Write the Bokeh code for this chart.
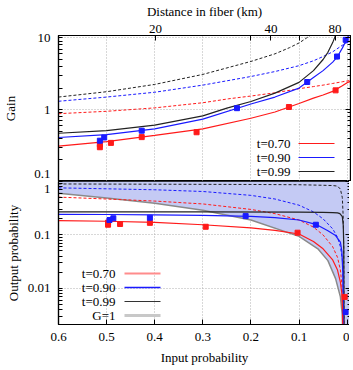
import math
from bokeh.plotting import figure
from bokeh.models import (Range1d, FixedTicker, LogAxis, BoxAnnotation, Label)
from bokeh.layouts import column
from bokeh.embed import file_html
from bokeh.resources import INLINE

FONT = "Liberation Serif"

# ---------------- axis ticks ----------------
x_ticks = [0.6, 0.5, 0.4, 0.3, 0.2, 0.1, 0.0]
x_tick_labels = ["0.6", "0.5", "0.4", "0.3", "0.2", "0.1", "0"]
dist_ticks_km = [20, 40, 80]
gain_ticks = [0.1, 1, 10]
# the "0.1" label sits just above the panel's lower edge (as in the original)
gain_label_pos = [0.127, 1, 10]
gain_tick_labels = ["0.1", "1", "10"]
out_ticks = [0.01, 0.1, 1]
# the "1" label sits just below the panel's upper edge (as in the original)
out_label_pos = [0.01, 0.1, 0.724]
out_tick_labels = ["0.01", "0.1", "1"]

# ---------------- top panel: gain curves ----------------
g_red_sol_x = [0.6, 0.5, 0.4, 0.3, 0.2, 0.15, 0.1, 0.07, 0.05, 0.03, 0.01, 0.0, -0.007]
g_red_sol_y = [0.31, 0.36, 0.44, 0.54, 0.76, 0.93, 1.22, 1.45, 1.6, 1.8, 2.15, 2.38, 2.48]
g_red_dash_x = [0.6, 0.5, 0.4, 0.3, 0.246, 0.2, 0.15, 0.1, 0.07, 0.05, 0.03, 0.01, -0.007]
g_red_dash_y = [0.88, 0.95, 1.06, 1.25, 1.42, 1.55, 1.72, 1.96, 2.1, 2.2, 2.32, 2.45, 2.56]
g_blue_sol_x = [0.6, 0.5, 0.4, 0.3, 0.2, 0.15, 0.1, 0.07, 0.05, 0.03, 0.02, 0.01, 0.0, -0.004]
g_blue_sol_y = [0.41, 0.45, 0.54, 0.74, 1.2, 1.5, 2.0, 2.8, 3.5, 4.6, 5.5, 7.2, 9.8, 11.0]
g_blue_dash_x = [0.6, 0.5, 0.4, 0.3, 0.2, 0.15, 0.1, 0.07, 0.05, 0.03, 0.01, -0.007]
g_blue_dash_y = [1.31, 1.5, 1.75, 2.2, 2.9, 3.4, 4.1, 4.8, 5.5, 6.4, 7.9, 9.2]
g_blk_sol_x = [0.6, 0.5, 0.4, 0.3, 0.25, 0.2, 0.15, 0.1, 0.07, 0.05, 0.04, 0.03, 0.025, 0.022]
g_blk_sol_y = [0.47, 0.51, 0.61, 0.82, 1.05, 1.3, 1.7, 2.4, 3.5, 5.0, 6.3, 8.6, 10.5, 11.5]
g_blk_dash_x = [0.6, 0.5, 0.4, 0.3, 0.2, 0.15, 0.12, 0.1, 0.085, 0.075]
g_blk_dash_y = [1.5, 1.78, 2.25, 3.1, 4.7, 6.0, 7.3, 8.5, 9.9, 11.0]

# measured gain
g_red_pts_x = [0.514, 0.514, 0.491, 0.427, 0.313, 0.121, 0.024]
g_red_pts_y = [0.30, 0.33, 0.345, 0.415, 0.485, 1.09, 1.86]
g_red_pts_err = [0.02, 0.02, 0.02, 0.025, 0.03, 0.06, 0.1]
g_blue_pts_x = [0.514, 0.505, 0.427, 0.229, 0.083, 0.021, 0.003]
g_blue_pts_y = [0.37, 0.41, 0.51, 1.05, 2.43, 5.5, 9.4]
g_blue_pts_err = [0.03, 0.03, 0.04, 0.08, 0.2, 0.5, 0.9]

# ---------------- bottom panel: output probability ----------------
gray_x = [0.6, 0.5, 0.4, 0.3, 0.2, 0.1, 0.06, 0.04, 0.024, 0.014, 0.0104, 0.009]
gray_y = [0.6, 0.49, 0.39, 0.29, 0.19, 0.094, 0.054, 0.033, 0.0152, 0.0069, 0.0034, 0.0015]
shade_x = [0.6, 0.5, 0.4, 0.3, 0.2, 0.1, 0.06, 0.04, 0.024, 0.014, 0.0104, 0.009, 0.0, -0.007]
shade_lo = [0.6, 0.49, 0.39, 0.29, 0.19, 0.094, 0.054, 0.033, 0.0152, 0.0069, 0.0034, 0.0015, 0.0015, 0.0015]
shade_hi = [1.0, 1.0, 1.0, 1.0, 1.0, 1.0, 1.0, 1.0, 1.0, 1.0, 1.0, 1.0, 1.0, 1.0]

o_red_sol_x = [0.6, 0.5, 0.4, 0.3, 0.2, 0.15, 0.1, 0.07, 0.05, 0.03, 0.02, 0.014, 0.011, 0.0095, 0.009]
o_red_sol_y = [0.185, 0.18, 0.172, 0.155, 0.135, 0.122, 0.104, 0.075, 0.055, 0.034, 0.022, 0.013, 0.008, 0.004, 0.0018]
o_red_dash_x = [0.6, 0.5, 0.4, 0.3, 0.2, 0.15, 0.1, 0.07, 0.05, 0.03, 0.02, 0.014, 0.011, 0.0095, 0.009]
o_red_dash_y = [0.51, 0.47, 0.43, 0.38, 0.3, 0.25, 0.19, 0.14, 0.1, 0.06, 0.038, 0.022, 0.012, 0.005, 0.0018]
o_blue_sol_x = [0.6, 0.5, 0.4, 0.3, 0.2, 0.15, 0.1, 0.065, 0.04, 0.024, 0.014, 0.011, 0.009, 0.008]
o_blue_sol_y = [0.243, 0.241, 0.238, 0.233, 0.222, 0.21, 0.19, 0.158, 0.12, 0.097, 0.073, 0.05, 0.02, 0.0018]
o_blue_dash_x = [0.6, 0.5, 0.4, 0.3, 0.2, 0.15, 0.1, 0.07, 0.05, 0.03, 0.02, 0.014, 0.01, 0.008, 0.007]
o_blue_dash_y = [0.76, 0.73, 0.7, 0.65, 0.55, 0.47, 0.36, 0.27, 0.2, 0.13, 0.09, 0.06, 0.035, 0.012, 0.0018]
o_blk_sol_x = [0.6, 0.3, 0.1, 0.05, 0.03, 0.02, 0.015, 0.01, 0.008, 0.007, 0.0065]
o_blk_sol_y = [0.27, 0.27, 0.268, 0.265, 0.262, 0.258, 0.25, 0.22, 0.15, 0.06, 0.0018]
o_blk_dash_x = [0.6, 0.4, 0.2, 0.1, 0.05, 0.03, 0.02, 0.014, 0.01, 0.008, 0.007, 0.0065]
o_blk_dash_y = [0.9, 0.89, 0.88, 0.87, 0.85, 0.84, 0.82, 0.72, 0.5, 0.2, 0.05, 0.0018]

o_red_pts_x = [0.497, 0.497, 0.472, 0.41, 0.294, 0.103, 0.005]
o_red_pts_y = [0.17, 0.155, 0.16, 0.168, 0.142, 0.11, 0.0069]
o_red_pts_err = [0.01, 0.01, 0.01, 0.01, 0.01, 0.006, 0.0005]
o_blue_pts_x = [0.494, 0.486, 0.41, 0.211, 0.065, 0.0033]
o_blue_pts_y = [0.19, 0.205, 0.21, 0.225, 0.155, 0.0036]
o_blue_pts_err = [0.012, 0.012, 0.015, 0.015, 0.015, 0.0004]

RED = "#ff1a1a"
BLUE = "#1a1aff"
BLACK = "#222222"
DASH = "3 2"

legend_labels = ["t=0.70", "t=0.90", "t=0.99"]


def style_axis(ax, size="13px"):
    ax.axis_line_color = "black"
    ax.axis_line_width = 1.2
    ax.major_tick_in = 5
    ax.major_tick_out = 0
    ax.minor_tick_in = 3
    ax.minor_tick_out = 0
    ax.major_tick_line_color = "black"
    ax.minor_tick_line_color = "black"
    ax.major_label_text_font = FONT
    ax.major_label_text_font_size = size
    ax.major_label_text_color = "black"
    ax.axis_label_text_font = FONT
    ax.axis_label_text_font_size = size
    ax.axis_label_text_font_style = "normal"
    ax.axis_label_text_color = "black"


def style_fig(p):
    p.outline_line_color = "black"
    p.outline_line_width = 1.2
    p.background_fill_color = "white"
    p.border_fill_color = "white"
    for g in (p.xgrid[0], p.ygrid[0]):
        g.grid_line_color = "#b0b0b0"
        g.grid_line_dash = "1 2"
        g.grid_line_width = 1


def error_bars(p, xs, ys, errs, color):
    lo = [y - e for y, e in zip(ys, errs)]
    hi = [y + e for y, e in zip(ys, errs)]
    p.segment(x0=xs, y0=lo, x1=xs, y1=hi, line_color=color, line_width=1)
    p.scatter(x=xs, y=ys, marker="square", size=5, fill_color=color, line_color=color)


def add_key(p, labels, colors, widths, text_right, line_left, rows_y):
    for lab, col, w, yy in zip(labels, colors, widths, rows_y):
        p.add_layout(BoxAnnotation(left=line_left, right=line_left + 36,
                                   bottom=yy - w / 2.0, top=yy + w / 2.0,
                                   left_units="screen", right_units="screen",
                                   bottom_units="screen", top_units="screen",
                                   fill_color=col, fill_alpha=1, line_alpha=0))
        p.add_layout(Label(x=text_right, y=yy, x_units="screen", y_units="screen",
                           text=lab, text_align="right", text_baseline="middle",
                           text_font=FONT, text_font_size="13px", text_color="black"))


def set_left_axis(ax, label_pos, labels, majors, minors, title, title_standoff):
    # labels placed at label_pos; tick marks drawn as "minor" ticks at decades and sub-decades
    ax.ticker = FixedTicker(ticks=label_pos, minor_ticks=majors + minors)
    ax.major_label_overrides = {float(t): l for t, l in zip(label_pos, labels)}
    ax.axis_label = title
    style_axis(ax)
    ax.major_tick_in = 0
    ax.minor_tick_in = 4
    ax.major_label_standoff = 8
    ax.axis_label_standoff = title_standoff


def mirror_log_axis(p, ticker):
    ax = LogAxis(ticker=ticker)
    style_axis(ax)
    ax.major_label_text_font_size = "1px"
    ax.major_label_text_alpha = 0
    ax.major_label_standoff = 0
    p.add_layout(ax, "right")


x_range = Range1d(0.6, -0.007)

# ================= top panel =================
p1 = figure(frame_width=292, frame_height=146, x_range=x_range,
            y_range=Range1d(0.1, 10.8), y_axis_type="log", x_axis_location="above",
            output_backend="svg", toolbar_location=None,
            min_border_left=52, min_border_right=1, min_border_top=0, min_border_bottom=0)
style_fig(p1)

dist_pos = [10 ** (-d / 50.0) for d in dist_ticks_km]
xa = p1.xaxis[0]
xa.ticker = FixedTicker(ticks=dist_pos, minor_ticks=[0.2, 0.1])
xa.major_label_overrides = {pos: str(d) for pos, d in zip(dist_pos, dist_ticks_km)}
xa.axis_label = "Distance in fiber (km)"
style_axis(xa)
xa.minor_tick_in = 5
xa.major_label_standoff = 3
xa.axis_label_standoff = 3
p1.xgrid[0].ticker = FixedTicker(ticks=x_ticks)

gain_minor = [m * d for d in (0.1, 1) for m in range(2, 10)]
g_ticker = FixedTicker(ticks=gain_ticks, minor_ticks=gain_minor)
set_left_axis(p1.yaxis[0], gain_label_pos, gain_tick_labels, gain_ticks, gain_minor, "Gain", 13)
p1.ygrid[0].ticker = g_ticker
mirror_log_axis(p1, FixedTicker(ticks=gain_ticks, minor_ticks=gain_minor))

p1.line(g_blk_dash_x, g_blk_dash_y, line_color=BLACK, line_dash=DASH, line_width=1)
p1.line(g_blue_dash_x, g_blue_dash_y, line_color=BLUE, line_dash=DASH, line_width=1)
p1.line(g_red_dash_x, g_red_dash_y, line_color=RED, line_dash=DASH, line_width=1)
p1.line(g_blk_sol_x, g_blk_sol_y, line_color=BLACK, line_width=1.2)
p1.line(g_blue_sol_x, g_blue_sol_y, line_color=BLUE, line_width=1.2)
p1.line(g_red_sol_x, g_red_sol_y, line_color=RED, line_width=1.2)
error_bars(p1, g_red_pts_x, g_red_pts_y, g_red_pts_err, RED)
error_bars(p1, g_blue_pts_x, g_blue_pts_y, g_blue_pts_err, BLUE)

add_key(p1, legend_labels, [RED, BLUE, BLACK], [1.2, 1.2, 1.2], 232, 240, [38, 24, 10])

# ================= bottom panel =================
p2 = figure(frame_width=292, frame_height=143, x_range=x_range,
            y_range=Range1d(0.0021, 1.0), y_axis_type="log",
            output_backend="svg", toolbar_location=None,
            min_border_left=52, min_border_right=1, min_border_top=0, min_border_bottom=0)
style_fig(p2)

xb = p2.xaxis[0]
xb.ticker = FixedTicker(ticks=x_ticks)
xb.major_label_overrides = {float(t): l for t, l in zip(x_ticks, x_tick_labels)}
xb.axis_label = "Input probability"
style_axis(xb)
xb.major_label_standoff = 8
xb.axis_label_standoff = 6

out_minor = [m * d for d in (0.001, 0.01, 0.1) for m in range(2, 10)]
o_ticker = FixedTicker(ticks=out_ticks, minor_ticks=out_minor)
set_left_axis(p2.yaxis[0], out_label_pos, out_tick_labels, out_ticks, out_minor,
              "Output probability", 4)
p2.ygrid[0].ticker = o_ticker
mirror_log_axis(p2, FixedTicker(ticks=out_ticks, minor_ticks=out_minor))

SHADE = "#c4caf4"
p2.varea(x=shade_x, y1=shade_lo, y2=shade_hi, fill_color=SHADE, fill_alpha=1)
p2.line(gray_x, gray_y, line_color="#8a8a8a", line_width=1.5)
p2.line(o_blk_dash_x, o_blk_dash_y, line_color=BLACK, line_dash=DASH, line_width=1)
p2.line(o_blue_dash_x, o_blue_dash_y, line_color=BLUE, line_dash=DASH, line_width=1)
p2.line(o_red_dash_x, o_red_dash_y, line_color=RED, line_dash=DASH, line_width=1)
p2.line(o_blk_sol_x, o_blk_sol_y, line_color=BLACK, line_width=1.2)
p2.line(o_blue_sol_x, o_blue_sol_y, line_color=BLUE, line_width=1.2)
p2.line(o_red_sol_x, o_red_sol_y, line_color=RED, line_width=1.2)
error_bars(p2, o_red_pts_x, o_red_pts_y, o_red_pts_err, RED)
error_bars(p2, o_blue_pts_x, o_blue_pts_y, o_blue_pts_err, BLUE)

add_key(p2, legend_labels + ["G=1"], ["#ff8c8c", BLUE, "#333333", "#c8c8c8"],
        [2, 1.5, 1.2, 3], 57, 66, [51, 37, 23, 9])

layout = column(p1, p2, spacing=0)
open("out.html", "w").write(file_html(layout, INLINE))
